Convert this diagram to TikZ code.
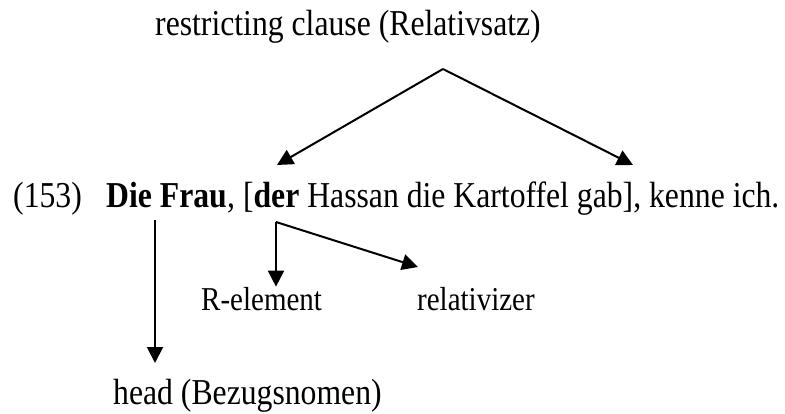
\documentclass[tikz,border=0pt]{standalone}
\usepackage{fontspec}
\setmainfont{Liberation Serif}
\usepackage{graphicx}
\usetikzlibrary{arrows.meta, positioning, calc}
\newcommand{\tallbox}[1]{\scalebox{1}[1.15]{#1}}

\begin{document}
\begin{tikzpicture}[x=1pt, y=-1pt,
    word/.style={font=\fontsize{31.7}{38}\selectfont, inner sep=0pt, anchor=base west},
    tag/.style={font=\fontsize{29}{35}\selectfont, inner sep=0pt, anchor=base west},
    link/.style={line width=2pt, -{Triangle[length=16pt, width=16pt]}}]
        \useasboundingbox (0,0) rectangle (785,414);
        % Top label
        \node[word] (clause) at (155,36) {\tallbox{restricting clause (Relativsatz)}};
        % Example sentence
        \node[word] (num) at (13,208) {\tallbox{(153)}};
        \node[word] (frau) at (106,208) {\tallbox{\textbf{Die Frau}}};
        \node[word] (rel) at (frau.base east)
          {\tallbox{, [\textbf{der} Hassan die Kartoffel gab], kenne ich.}};
        % Lower labels
        \node[tag] (relem) at (201,310) {\tallbox{R-element}};
        \node[tag] (relz) at (417,310) {\tallbox{relativizer}};
        \node[word] (head) at (113,404) {\tallbox{head (Bezugsnomen)}};
        % Free ends
        \coordinate (apex) at (443,69);
        \coordinate (derL) at (277,165);
        \coordinate (gabR) at (633,165);
        \coordinate (frauB) at (155,220);
        \coordinate (derB) at (276,222);
        \coordinate (relzT) at (418,267);
        % Clause arrows
        \draw[link] (apex) -- (derL);
        \draw[link] (apex) -- (gabR);
        % Head arrow
        \draw[link] (frauB) -- (155,363);
        % R-element and relativizer
        \draw[link] (derB) -- (derB |- relem.north);
        \draw[link] (derB) -- (relzT);
      \end{tikzpicture}
\end{document}
